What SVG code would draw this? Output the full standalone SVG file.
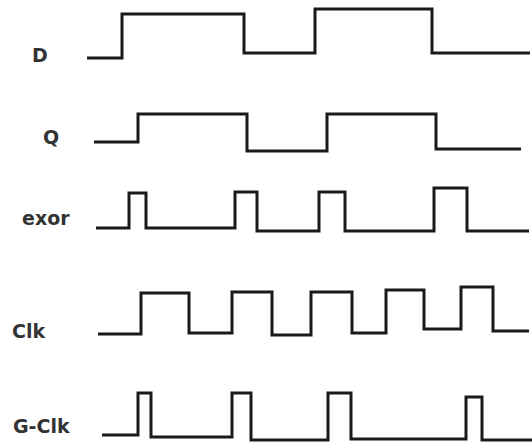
<svg xmlns="http://www.w3.org/2000/svg" width="532" height="444" viewBox="0 0 532 444">
<style>
.w{fill:none;stroke:#1a1a1a;stroke-width:3;stroke-linejoin:miter;stroke-linecap:butt}
.l{font-family:"DejaVu Sans",Verdana,sans-serif;font-weight:bold;font-size:19px;fill:#333}
</style>
<rect width="532" height="444" fill="#fff"/>
<g id="sig-D">
<text class="l" x="32" y="62">D</text>
<polyline class="w" points="87,58 122,58 122,14 244,14 244,53 315,53 315,9 432,9 432,53 530,53"/>
</g>
<g id="sig-Q">
<text class="l" x="43" y="144">Q</text>
<polyline class="w" points="94,142 138,142 138,114 247,114 247,151 327,151 327,114 436,114 436,149 521,149"/>
</g>
<g id="sig-exor">
<text class="l" x="22" y="225">exor</text>
<polyline class="w" points="96,228 129,228 129,193 146,193 146,228 235,228 235,192 257,192 257,231 319,231 319,192 345,192 345,231 434,231 434,188 467,188 467,231 529,231"/>
</g>
<g id="sig-Clk">
<text class="l" x="12" y="338">Clk</text>
<polyline class="w" points="98,334 141,334 141,293 189,293 189,333 232,333 232,292 272,292 272,335 311,335 311,292 352,292 352,333 386,333 386,290 424,290 424,329 461,329 461,287 493,287 493,331 529,331"/>
</g>
<g id="sig-GClk">
<text class="l" x="13" y="433">G-Clk</text>
<polyline class="w" points="102,435 138,435 138,393 151,393 151,437 232,437 232,393 251,393 251,440 328,440 328,393 351,393 351,439 466,439 466,397 482,397 482,440 532,440"/>
</g>
</svg>
